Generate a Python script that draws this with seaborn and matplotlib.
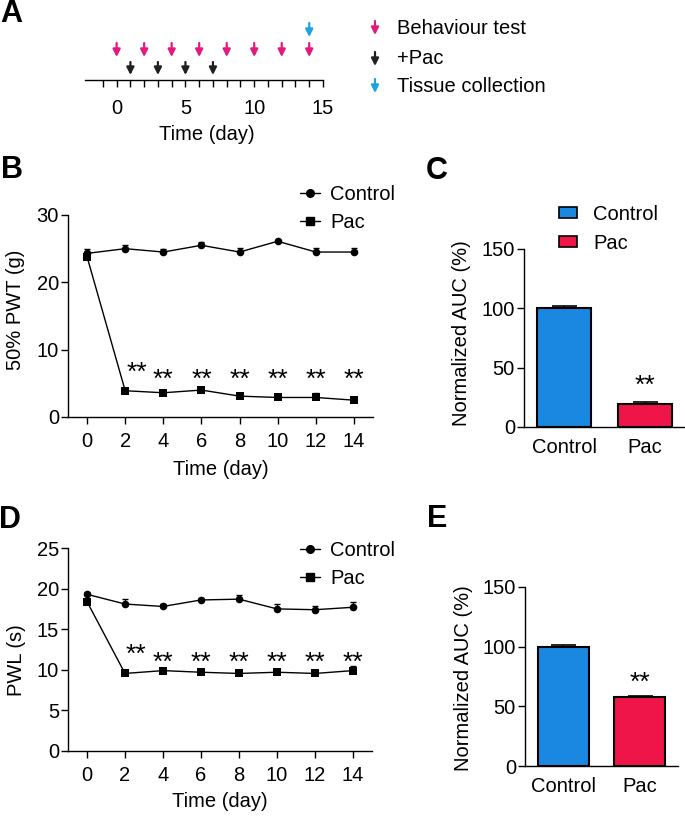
import numpy as np
import pandas as pd
import matplotlib
matplotlib.use("Agg")
import matplotlib.pyplot as plt
import seaborn as sns
from matplotlib.lines import Line2D
from matplotlib.patches import Patch

# panel A - timeline
behaviour_days = [0, 2, 4, 6, 8, 10, 12, 14]
pac_days = [1, 3, 5, 7]
tissue_days = [14]

# panel B - 50% PWT (g)
days = [0, 2, 4, 6, 8, 10, 12, 14]
pwt_control = [24.3, 25.0, 24.5, 25.5, 24.5, 26.1, 24.5, 24.5]
pwt_control_err = [0.6, 0.6, 0.5, 0.5, 0.6, 0.2, 0.6, 0.6]
pwt_pac = [23.8, 3.9, 3.6, 4.0, 3.1, 2.9, 2.9, 2.5]
pwt_pac_err = [0.5, 0.4, 0.3, 0.2, 0.2, 0.5, 0.6, 0.1]

# panel D - PWL (s)
pwl_control = [19.3, 18.1, 17.8, 18.6, 18.7, 17.5, 17.4, 17.7]
pwl_control_err = [0.2, 0.6, 0.3, 0.2, 0.5, 0.6, 0.5, 0.6]
pwl_pac = [18.4, 9.55, 9.9, 9.7, 9.55, 9.7, 9.55, 9.9]
pwl_pac_err = [0.3, 0.3, 0.2, 0.1, 0.1, 0.2, 0.4, 0.6]

# panels C, E - normalized AUC (%)
groups = ["Control", "Pac"]
auc_pwt = [100, 19.5]
auc_pwt_err = [2.2, 1.5]
auc_pwl = [100, 57.5]
auc_pwl_err = [1.5, 1.2]

PINK, DARK, SKY = "#e5197d", "#231f20", "#1aa3e0"
BAR_COLORS = {"Control": "#1a87e0", "Pac": "#ef1549"}
FS = 14.5
STAR_FS = 19

sns.set_theme(style="ticks")
plt.rcParams["font.family"] = ["Liberation Sans", "DejaVu Sans"]
plt.rcParams.update({
    "font.size": FS,
    "axes.linewidth": 1.0,
    "text.color": "black",
    "axes.labelcolor": "black",
    "axes.edgecolor": "black",
    "xtick.color": "black",
    "ytick.color": "black",
})

W, H = 685, 816
fig = plt.figure(figsize=(6.85, 8.16), dpi=100)


def box(l, t, r, b):
    return [l / W, 1 - b / H, (r - l) / W, (b - t) / H]


def arrows(ax, xs, tail, tip, color, coords="data"):
    for x in xs:
        ax.annotate("", xy=(x, tip), xytext=(x, tail), xycoords=coords,
                    arrowprops=dict(arrowstyle="-|>", color=color, lw=1.6,
                                    mutation_scale=11, shrinkA=0, shrinkB=0))


# ---- A: timeline
ax_a = fig.add_axes(box(85, 15, 323, 80))
ax_a.set_xlim(-2.3, 15)
ax_a.set_ylim(0, 65)
for s in ["top", "right", "left"]:
    ax_a.spines[s].set_visible(False)
ax_a.set_yticks([])
ax_a.set_xticks([0, 5, 10, 15])
ax_a.set_xticks(range(-1, 16), minor=True)
ax_a.tick_params(axis="x", which="both", length=5, width=1, pad=9, labelsize=FS)
ax_a.set_xlabel("Time (day)", fontsize=FS)
ax_a.xaxis.set_label_coords(0.513, -0.70)
arrows(ax_a, behaviour_days, 37, 23, PINK)
arrows(ax_a, pac_days, 18, 5, DARK)
arrows(ax_a, tissue_days, 57, 43, SKY)

legend_rows = [("Behaviour test", PINK, 28), ("+Pac", DARK, 59), ("Tissue collection", SKY, 86)]
for label, color, yc in legend_rows:
    arrows(ax_a, [375], H - yc + 7, H - yc - 7, color, coords="figure pixels")
    fig.text(397 / W, 1 - yc / H, label, fontsize=FS, va="center", ha="left")


# ---- line panels
def line_panel(rect, ctrl, ctrl_err, pac, pac_err, ymax, ystep, ylabel,
               ylab_xy, xlab_y, star_y, leg_top):
    ax = fig.add_axes(rect)
    df = pd.DataFrame({"day": days * 2, "value": ctrl + pac,
                       "group": ["Control"] * len(days) + ["Pac"] * len(days)})
    sns.lineplot(data=df, x="day", y="value", hue="group", style="group",
                 markers={"Control": "o", "Pac": "s"}, dashes=False,
                 palette={"Control": "black", "Pac": "black"},
                 markersize=5.5, linewidth=1, markeredgewidth=0,
                 legend=False, ax=ax)
    for m, e in [(ctrl, ctrl_err), (pac, pac_err)]:
        ax.errorbar(days, m, yerr=[np.zeros(len(m)), e], fmt="none",
                    ecolor="black", elinewidth=1, capsize=2.5, capthick=1)
    ax.set_xlim(-1, 15)
    ax.set_ylim(0, ymax)
    ax.set_xticks(days)
    ax.set_yticks(np.arange(0, ymax + 0.1, ystep))
    sns.despine(ax=ax)
    ax.tick_params(axis="x", length=5, width=1, pad=6, labelsize=FS)
    ax.tick_params(axis="y", length=5, width=1, pad=1.5, labelsize=FS)
    ax.set_xlabel("Time (day)", fontsize=FS)
    ax.set_ylabel(ylabel, fontsize=FS)
    ax.xaxis.set_label_coords(0.5, xlab_y)
    ax.yaxis.set_label_coords(*ylab_xy)
    for i, d in enumerate(days[1:]):
        x = d + 0.6 if i == 0 else d
        y = star_y[0] if i == 0 else star_y[1]
        ax.text(x, y, "**", ha="center", va="center", fontsize=STAR_FS)
    handles = [Line2D([], [], color="black", lw=1, marker="o", markersize=5.5, label="Control"),
               Line2D([], [], color="black", lw=1, marker="s", markersize=5.5, label="Pac")]
    ax.legend(handles=handles, loc="upper left", bbox_to_anchor=(300 / W, 1 - leg_top / H),
              bbox_transform=fig.transFigure, frameon=False, fontsize=FS,
              handlelength=1.0, handletextpad=0.5, labelspacing=0.45,
              borderpad=0, borderaxespad=0)
    return ax


line_panel(box(68, 215, 373, 417), pwt_control, pwt_control_err, pwt_pac, pwt_pac_err,
           30, 10, "50% PWT (g)", (-0.142, 0.53), -0.213, (6.5, 5.5), 185)
line_panel(box(68, 548, 372, 751), pwl_control, pwl_control_err, pwl_pac, pwl_pac_err,
           25, 5, "PWL (s)", (-0.138, 0.45), -0.202, (11.8, 10.9), 541)


# ---- bar panels
def bar_panel(rect, vals, errs, ylab_xy, star_y, legend=False):
    ax = fig.add_axes(rect)
    df = pd.DataFrame({"group": groups, "value": vals})
    sns.barplot(data=df, x="group", y="value", hue="group", palette=BAR_COLORS,
                saturation=1, width=0.67, edgecolor="black", linewidth=1.5,
                legend=False, ax=ax)
    ax.errorbar([0, 1], vals, yerr=[[0, 0], errs], fmt="none", ecolor="black",
                elinewidth=1.2, capsize=9, capthick=1.2)
    ax.set_xlim(-0.5, 1.5)
    ax.set_ylim(0, 150)
    ax.set_yticks([0, 50, 100, 150])
    sns.despine(ax=ax)
    ax.tick_params(axis="x", length=0, pad=8, labelsize=FS)
    ax.tick_params(axis="y", length=5, width=1, pad=1.5, labelsize=FS)
    ax.set_xlabel("")
    ax.set_ylabel("Normalized AUC (%)", fontsize=FS)
    ax.yaxis.set_label_coords(*ylab_xy)
    ax.text(1, star_y, "**", ha="center", va="center", fontsize=STAR_FS)
    if legend:
        handles = [Patch(facecolor=BAR_COLORS[g], edgecolor="black", linewidth=1.2, label=g)
                   for g in groups]
        ax.legend(handles=handles, loc="upper left", bbox_to_anchor=(559 / W, 1 - 205 / H),
                  bbox_transform=fig.transFigure, frameon=False, fontsize=FS,
                  handlelength=0.9, handleheight=0.45, handletextpad=0.8,
                  labelspacing=0.5, borderpad=0, borderaxespad=0)
    return ax


bar_panel(box(524, 249, 685, 427), auc_pwt, auc_pwt_err, (-0.33, 0.53), 35, legend=True)
bar_panel(box(525, 587, 678, 766), auc_pwl, auc_pwl_err, (-0.34, 0.49), 70)

# panel letters
for letter, x, y in [("A", 11, 14), ("B", 12, 170), ("C", 437, 171), ("D", 10, 520), ("E", 437, 519)]:
    fig.text(x / W, 1 - y / H, letter, fontsize=22, fontweight="bold", ha="center", va="center")

fig.savefig("out.png", dpi=100)
